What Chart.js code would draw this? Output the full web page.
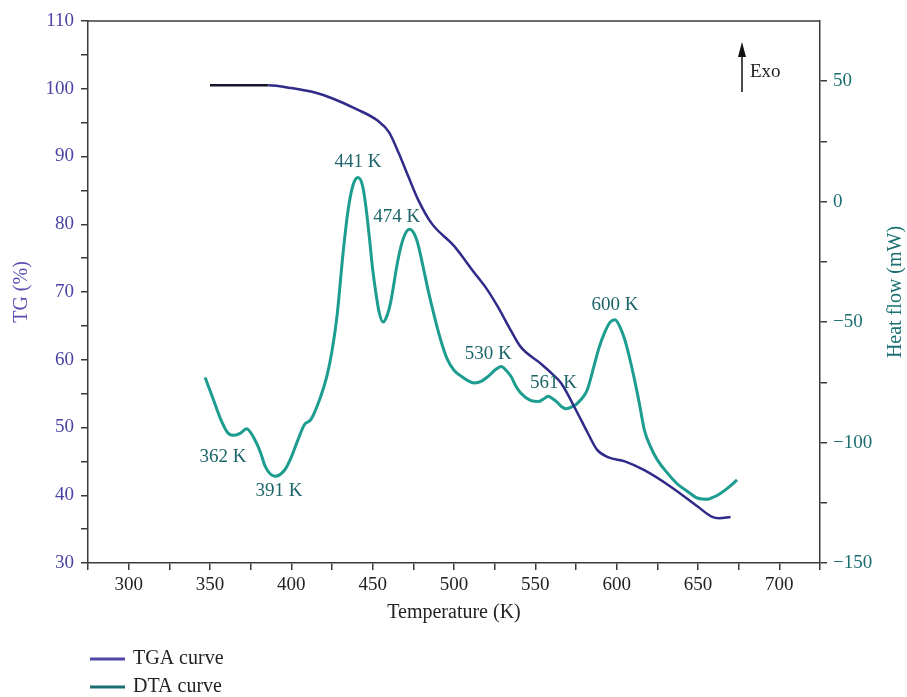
<!DOCTYPE html>
<html><head><meta charset="utf-8">
<script src="https://cdn.jsdelivr.net/npm/chart.js@4.4.0/dist/chart.umd.min.js"></script>
<style>html,body{margin:0;padding:0;background:#fff;}canvas{display:block;}</style>
</head><body>
<canvas id="c" width="907" height="697"></canvas>
<script>
// ---- data ----
const seriesNames = ['TGA curve', 'DTA curve'];
const tgaTemp  = [350, 386, 400, 415, 425, 440, 453, 460, 466, 472, 478, 486, 500, 512, 520, 527, 535, 541, 553, 560, 566, 576, 582, 588, 595, 605, 617, 633, 650, 658, 663, 670];
const tgaValue = [100.5, 100.5, 100.1, 99.4, 98.6, 97.0, 95.3, 93.6, 90.5, 87.0, 83.6, 80.2, 76.8, 73.0, 70.5, 67.8, 64.3, 61.9, 59.5, 58.0, 56.5, 52.1, 49.3, 46.7, 45.6, 45.0, 43.7, 41.3, 38.3, 36.9, 36.6, 36.8];
const dtaTemp  = [347, 352, 357, 361, 365, 369, 372.4, 377.7, 381, 384, 390, 396, 400, 404, 408, 412, 418, 422, 425, 428, 432, 435, 438, 441, 444, 446, 448, 450, 452, 454, 456.4, 459, 461, 465.6, 469, 472.8, 476, 478, 481, 484, 487, 490, 493, 496, 500, 504.5, 512.7, 517, 521, 526, 529, 532, 535, 538, 541, 547, 552, 556, 558, 560, 563, 566, 569, 573, 576, 580, 582, 586, 589, 592.5, 596, 599, 602, 605, 608, 611, 614, 617, 621, 625, 631, 637, 644, 650, 656, 660, 664, 669, 674];
const dtaValue = [-73, -82, -91, -96, -97, -96, -94.3, -99, -104, -110, -114, -111.3, -106, -99, -92.6, -90.5, -81, -72, -62, -48, -20, -3, 7, 10, 6, -3, -15, -28, -38, -46, -50, -47, -42, -24, -15, -11.5, -14, -18, -27, -36.5, -45, -53, -60, -65.6, -70, -72.5, -75.3, -74.5, -72.5, -69.5, -68.4, -70, -72.5, -76.5, -79.4, -82.5, -83, -81.5, -80.8, -81.5, -83, -85, -86, -85, -83.6, -80.5, -78, -68.4, -61, -54.5, -50, -49, -52, -57.3, -65, -74, -84, -94.7, -102, -107.2, -112.5, -117, -120.5, -123.1, -123.5, -122.5, -121, -118.5, -115.5];
const peakTemps = [362, 391, 441, 474, 530, 561, 600];

// ---- styles ----
const FONT = "'Liberation Serif', 'Times New Roman', serif";
const axisColor = '#3a3a3a';
const tgaColor = '#302b88';
const dtaColor = '#1d9c90';
const leftColor = '#4b43a3';
const rightColor = '#1b6e72';
const peakColor = '#1d6569';
const legendColors = ['#4f46a8', '#1b6e70'];
const peakOffsets = {362: [-5, 24], 391: [4, 15], 441: [0, -16], 474: [-13, -12], 530: [-13, -12], 561: [2, -15], 600: [0, -15]};

Chart.defaults.font.family = FONT;

const minus = v => v < 0 ? '\u2212' + Math.abs(v) : String(v);

const extras = {
  id: 'extras',
  afterDraw(chart) {
    const c = chart.ctx, a = chart.chartArea;
    c.save();
    // top frame line
    c.strokeStyle = axisColor; c.lineWidth = 1.5;
    c.beginPath(); c.moveTo(a.left, a.top); c.lineTo(a.right, a.top); c.stroke();
    // peak labels
    const xs = chart.scales.x, ys = chart.scales.y2;
    c.font = '19px ' + FONT; c.fillStyle = peakColor;
    c.textAlign = 'center'; c.textBaseline = 'middle';
    peakTemps.forEach(t => {
      let best = 0;
      dtaTemp.forEach((d, i) => { if (Math.abs(d - t) < Math.abs(dtaTemp[best] - t)) best = i; });
      const px = xs.getPixelForValue(dtaTemp[best]);
      const py = ys.getPixelForValue(dtaValue[best]);
      const o = peakOffsets[t];
      c.fillText(t + ' K', px + o[0], py + o[1]);
    });
    // right axis title (rotated bottom-to-top)
    c.save();
    c.translate(896, (a.top + a.bottom) / 2);
    c.rotate(-Math.PI / 2);
    c.font = '20px ' + FONT; c.fillStyle = rightColor;
    c.fillText('Heat flow (mW)', 0, 0);
    c.restore();
    // Exo arrow
    const ax = a.right - 78;
    c.strokeStyle = '#111'; c.fillStyle = '#111'; c.lineWidth = 1.5;
    c.beginPath(); c.moveTo(ax, a.top + 71); c.lineTo(ax, a.top + 32); c.stroke();
    c.beginPath(); c.moveTo(ax, a.top + 21); c.lineTo(ax - 4, a.top + 36); c.lineTo(ax + 4, a.top + 36); c.closePath(); c.fill();
    c.font = '19px ' + FONT; c.textAlign = 'left'; c.fillStyle = '#222';
    c.fillText('Exo', ax + 8, a.top + 51);
    // legend
    c.lineWidth = 3;
    seriesNames.forEach((n, i) => {
      const y = 659 + i * 28;
      c.strokeStyle = legendColors[i];
      c.beginPath(); c.moveTo(90, y); c.lineTo(125, y); c.stroke();
      c.fillStyle = '#222'; c.font = '20px ' + FONT;
      c.fillText(n, 133, y);
    });
    c.restore();
  }
};

const gridOpts = {drawOnChartArea: false, drawTicks: true, tickLength: 7, color: axisColor, lineWidth: 1.5};
const borderOpts = {display: true, color: axisColor, width: 1.5};

new Chart(document.getElementById('c').getContext('2d'), {
  type: 'line',
  data: {
    datasets: [
      {label: seriesNames[0], data: tgaTemp.map((t, i) => ({x: t, y: tgaValue[i]})), yAxisID: 'y',
       borderColor: tgaColor, borderWidth: 2.5, pointRadius: 0, fill: false, cubicInterpolationMode: 'monotone',
       segment: {borderColor: s => s.p0DataIndex === 0 ? '#16162a' : tgaColor}},
      {label: seriesNames[1], data: dtaTemp.map((t, i) => ({x: t, y: dtaValue[i]})), yAxisID: 'y2',
       borderColor: dtaColor, borderWidth: 3, pointRadius: 0, fill: false, cubicInterpolationMode: 'monotone'}
    ]
  },
  options: {
    responsive: false, animation: false,
    layout: {padding: {top: 21, bottom: 67, left: 0, right: 0}},
    plugins: {legend: {display: false}, tooltip: {enabled: false}},
    scales: {
      x: {type: 'linear', min: 275, max: 725,
          ticks: {stepSize: 25, autoSkip: false, maxRotation: 0, color: '#222', font: {size: 19}, padding: 4,
                  callback: v => v % 50 === 0 ? String(v) : ''},
          grid: gridOpts, border: borderOpts,
          title: {display: true, text: 'Temperature (K)', color: '#222', font: {size: 20}, padding: {top: 0, bottom: 5}},
          afterFit: s => { s.height = 67; }},
      y: {type: 'linear', position: 'left', min: 30, max: 110,
          ticks: {stepSize: 5, autoSkip: false, color: leftColor, font: {size: 19}, padding: 7,
                  callback: v => v % 10 === 0 ? String(v) : ''},
          grid: gridOpts, border: borderOpts,
          title: {display: true, text: 'TG (%)', color: '#5a50b2', font: {size: 20}, padding: {top: 10, bottom: 0}},
          afterFit: s => { s.width = 88; }},
      y2: {type: 'linear', position: 'right', min: -150, max: 75,
          ticks: {stepSize: 25, autoSkip: false, color: rightColor, font: {size: 19}, padding: 6,
                  callback: v => v % 50 === 0 ? minus(v) : ''},
          grid: Object.assign({}, gridOpts, {color: c => (c.tick && c.tick.value === 75) ? 'rgba(0,0,0,0)' : axisColor}),
          border: borderOpts,
          afterFit: s => { s.width = 87; }}
    }
  },
  plugins: [extras]
});
</script>
</body></html>
